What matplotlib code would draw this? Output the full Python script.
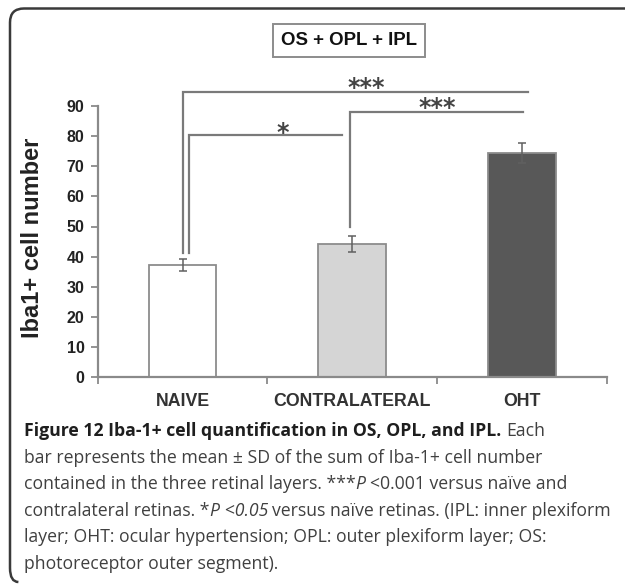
import matplotlib
matplotlib.use("Agg")
import matplotlib.pyplot as plt
from matplotlib.patches import Path, PathPatch
from matplotlib.transforms import IdentityTransform

# ---------------- data ----------------
categories = ["NAIVE", "CONTRALATERAL", "OHT"]
means = [37.2, 44.1, 74.4]
sds = [2.0, 2.7, 3.3]
bar_colors = ["#ffffff", "#d5d5d5", "#585858"]
yticks = [0, 10, 20, 30, 40, 50, 60, 70, 80, 90]
ylabel = "Iba1+ cell number"
panel_title = "OS + OPL + IPL"
sig_labels = ["***", "*", "***"]

caption_lines = [
    [("Figure 12 Iba-1+ cell quantification in OS, OPL, and IPL.", "b"), ("Each", "r")],
    [("bar represents the mean \u00b1 SD of the sum of Iba-1+ cell number", "r")],
    [("contained in the three retinal layers. ***", "r"), ("P", "i"), ("<0.001 versus na\u00efve and", "r")],
    [("contralateral retinas. *", "r"), ("P <0.05", "i"), ("versus na\u00efve retinas. (IPL: inner plexiform", "r")],
    [("layer; OHT: ocular hypertension; OPL: outer plexiform layer; OS:", "r")],
    [("photoreceptor outer segment).", "r")],
]

W, H = 625, 585
fig = plt.figure(figsize=(W / 100, H / 100), dpi=100)
fig.patch.set_facecolor("white")

AX_L, AX_R = 97.6, 607.0
Y0_PX, YTOP_PX = 377.0, 76.0
ax = fig.add_axes([AX_L / W, (H - Y0_PX) / H, (AX_R - AX_L) / W, (Y0_PX - YTOP_PX) / H])
ax.set_facecolor("none")

AX_FONT = "Liberation Sans"
SPINE = "#8a8a8a"

x = list(range(len(categories)))
ax.bar(x, means, width=0.4, color=bar_colors, edgecolor="#8c8c8c", linewidth=1.3, zorder=2)
ax.errorbar(x, means, yerr=sds, fmt="none", ecolor="#606060", elinewidth=1.1,
            capsize=3, capthick=1.1, zorder=3)

ax.set_xlim(-0.5, 2.5)
ax.set_ylim(0, 100)
ax.spines["top"].set_visible(False)
ax.spines["right"].set_visible(False)
for s in ("left", "bottom"):
    ax.spines[s].set_color(SPINE)
    ax.spines[s].set_linewidth(1.6)
ax.spines["left"].set_bounds(0, 90)

ax.set_yticks(yticks)
ax.set_yticklabels([str(v) for v in yticks], fontfamily=AX_FONT, fontweight="bold",
                   fontsize=11.5, color="#222222")
ax.tick_params(axis="y", length=5, width=1.3, color=SPINE, pad=4.5)

ax.set_xticks(x)
ax.set_xticklabels(categories, fontfamily=AX_FONT, fontweight="bold", fontsize=12.8,
                   color="#333333")
ax.tick_params(axis="x", which="major", length=0, pad=11.5)
ax.set_xticks([-0.5, 0.5, 1.5, 2.5], minor=True)
ax.tick_params(axis="x", which="minor", length=5, width=1.3, color=SPINE, direction="out")

ax.set_ylabel(ylabel, fontfamily=AX_FONT, fontweight="bold", fontsize=17, color="#222222")
ax.yaxis.set_label_coords(-0.105, 0.462)

# ---------------- significance brackets ----------------
BR = "#7a7a7a"
brackets = [
    # (x_left, x_right, y_top, y_leg_bottom, label_x, label_y, label)
    (0.0, 2.035, 94.8, 41.2, 1.08, 96.0, sig_labels[0]),
    (0.038, 0.94, 80.4, 41.2, 0.59, 81.2, sig_labels[1]),
    (0.986, 2.005, 87.9, 49.9, 1.50, 89.3, sig_labels[2]),
]
for xl, xr, yt, yb, lx, ly, lab in brackets:
    ax.plot([xl, xl, xr], [yb, yt, yt], color=BR, lw=1.6, clip_on=False, zorder=4,
            solid_joinstyle="miter")
    ax.text(lx, ly, lab, ha="center", va="center", fontfamily="DejaVu Sans", fontweight="bold",
            fontsize=17, color="#444444", clip_on=False)

# ---------------- panel title box ----------------
fig.text(349 / W, 1 - 40.5 / H, panel_title, ha="center", va="center", fontfamily=AX_FONT,
         fontweight="bold", fontsize=13.4, color="#111111",
         bbox=dict(boxstyle="square,pad=0.42", facecolor="white", edgecolor="#8c8c8c",
                   linewidth=1.4))

# ---------------- outer frame (left + top, rounded corners) ----------------
fx, ftop, fbot, r = 10.0, H - 8.5, H - 582.0, 14.0
verts = [(W + 2, ftop), (fx + r, ftop), (fx, ftop), (fx, ftop - r), (fx, fbot + r),
         (fx, fbot), (fx + r * 0.6, fbot)]
codes = [Path.MOVETO, Path.LINETO, Path.CURVE3, Path.CURVE3, Path.LINETO, Path.CURVE3, Path.CURVE3]
frame = PathPatch(Path(verts, codes), facecolor="none", edgecolor="#3a3a3a", lw=1.8,
                  transform=IdentityTransform())
fig.patches.append(frame)
frame.set_figure(fig)

# ---------------- caption ----------------
CAP_FONT = ["Open Sans", "DejaVu Sans"]
CAP_SIZE = 12.7
renderer = fig.canvas.get_renderer()


def text_w(s, **kw):
    t = fig.text(0, 0, s, fontsize=CAP_SIZE, family=CAP_FONT, **kw)
    w = t.get_window_extent(renderer=renderer).width
    t.remove()
    return w


def style_kw(st):
    if st == "b":
        return dict(fontweight="bold", color="#1e1e1e")
    if st == "i":
        return dict(fontstyle="italic", color="#404040")
    return dict(color="#404040")


space_w = text_w("n n") - text_w("nn")
x0 = 24.0
base0, step = 436.0, 26.6
for i, line in enumerate(caption_lines):
    xp = x0
    yp = base0 + i * step
    for j, (s, st) in enumerate(line):
        if j > 0:
            prev = line[j - 1][0]
            if not (prev.endswith("*") and st == "i"):
                xp += space_w * 1.0
        kw = style_kw(st)
        t = fig.text(xp / W, 1 - yp / H, s, fontsize=CAP_SIZE, family=CAP_FONT,
                     ha="left", va="baseline", **kw)
        xp += t.get_window_extent(renderer=renderer).width

fig.savefig("out.png", dpi=100, facecolor="white")
